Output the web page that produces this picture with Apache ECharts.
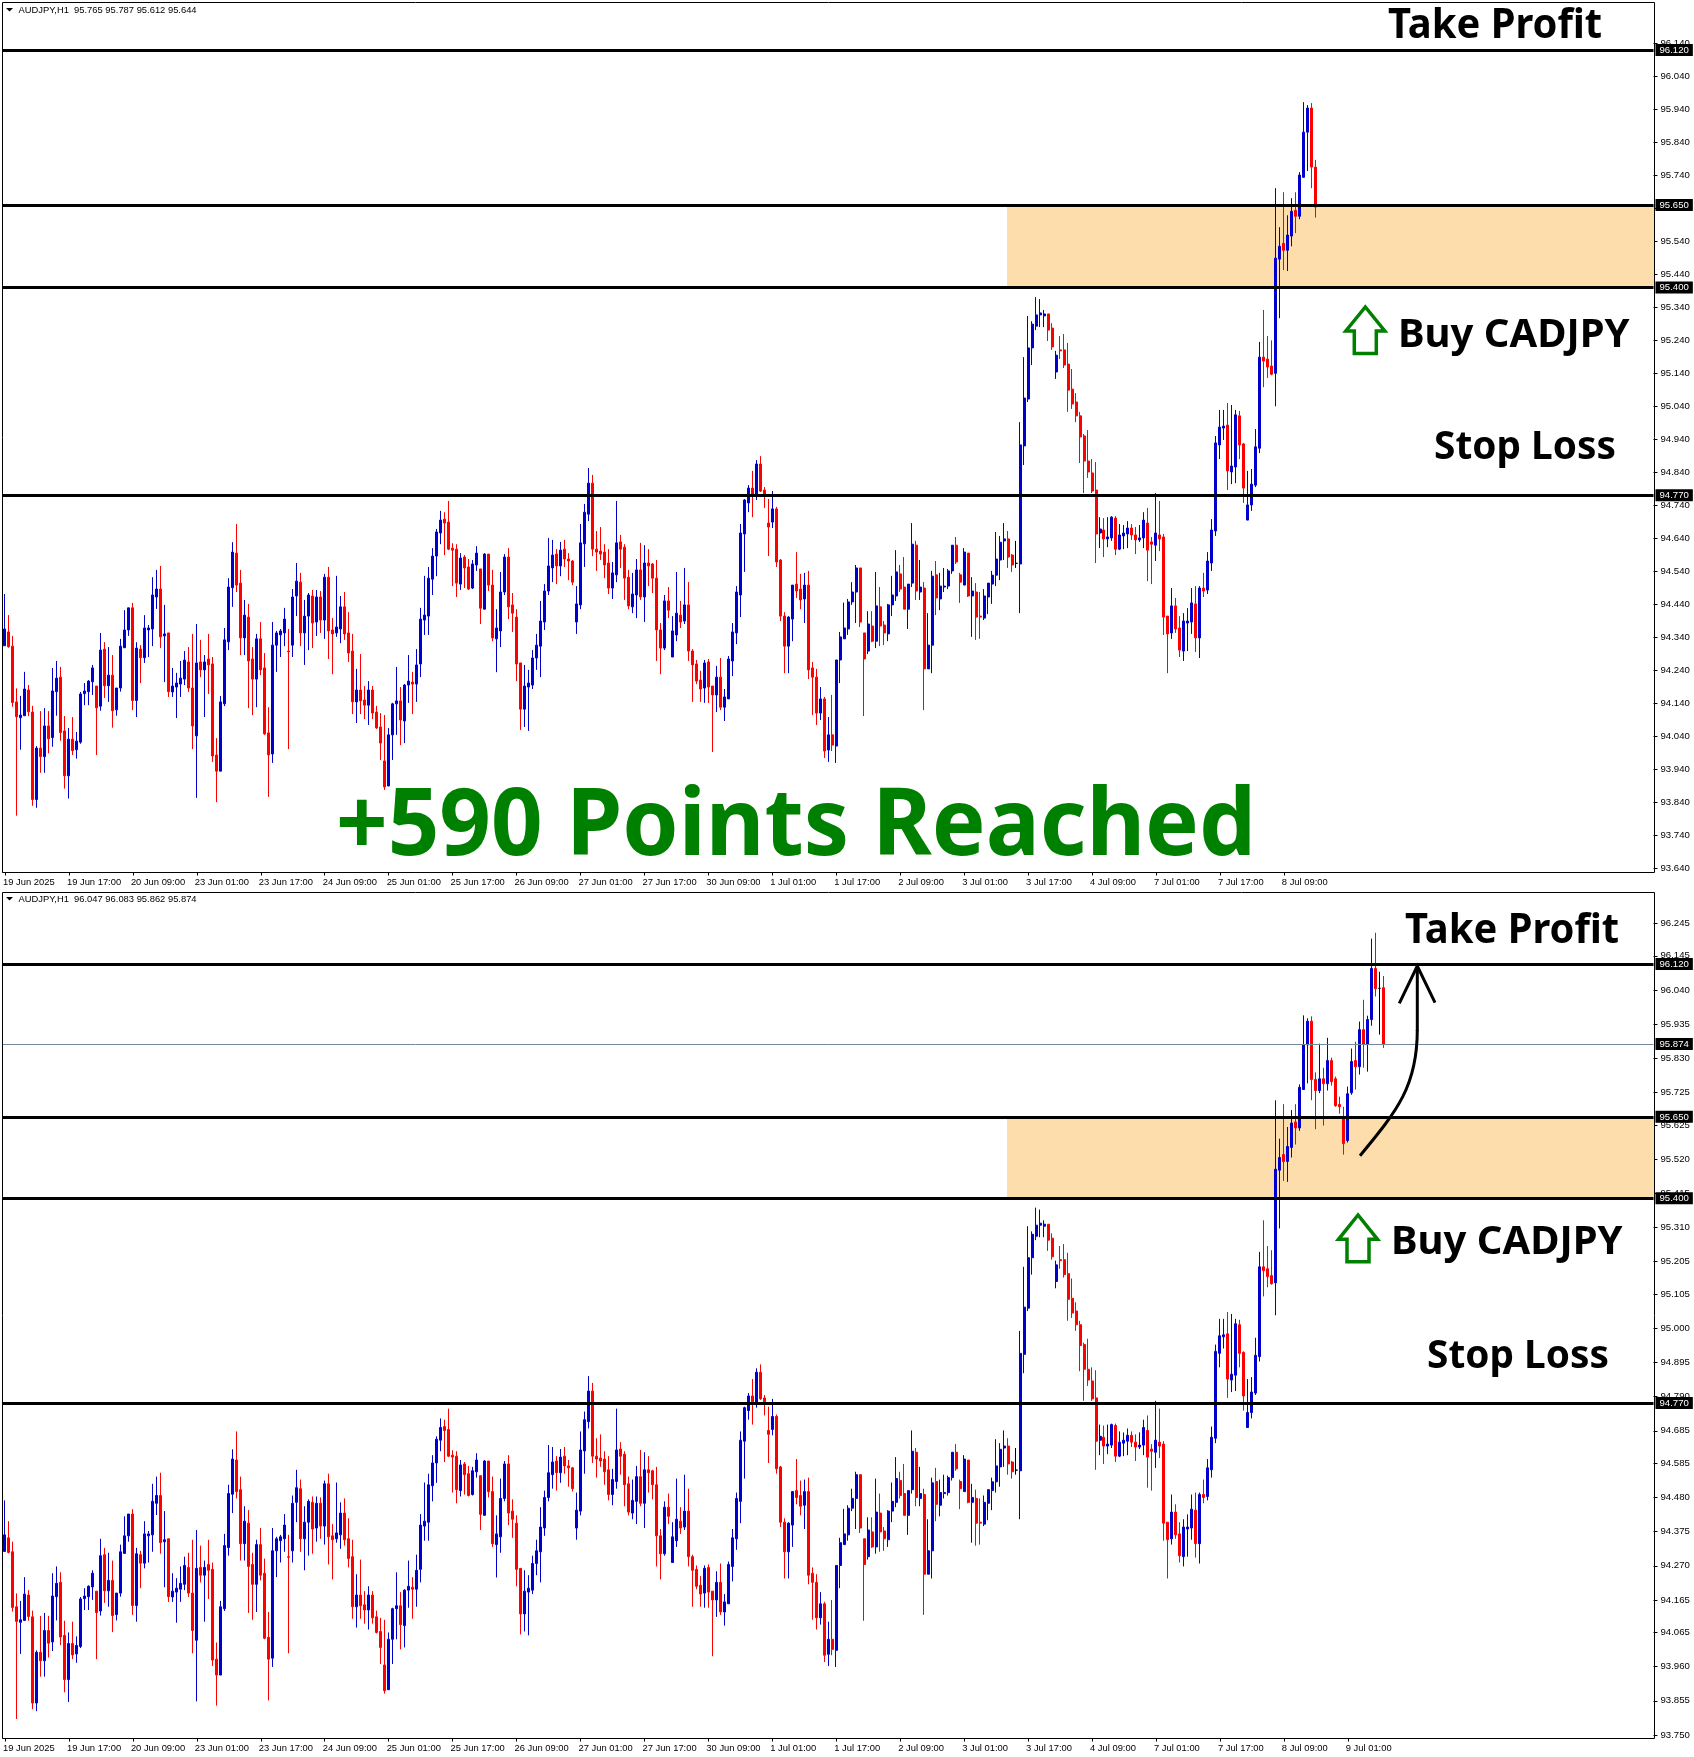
<!DOCTYPE html>
<html><head><meta charset="utf-8">
<style>html,body{margin:0;padding:0;background:#fff}#c{width:1694px;height:1757px}</style>
<script src="https://cdn.jsdelivr.net/npm/echarts@6/dist/echarts.min.js"></script>
</head><body><div id="c"></div>
<script>
// All OHLC values are points above 94.000 (1 point = 0.001)
const BASE = 94;
const opens = [
314,356,313,144,96,102,180,113,-152,4,-22,71,36,175,219,56,-80,31,-1,22,
169,175,205,192,131,304,193,225,120,186,308,362,429,148,304,278,362,365,462,486,
344,353,174,189,198,213,265,186,41,265,241,274,259,-17,-66,138,326,490,595,504,
338,401,274,213,335,247,50,-14,316,347,353,298,316,465,507,353,404,465,386,462,
392,522,362,353,365,432,353,298,144,180,150,134,180,113,68,-35,-111,44,138,147,
86,195,204,198,259,392,404,516,586,656,698,689,610,607,501,583,553,489,559,547,
425,592,498,335,359,477,583,438,401,262,122,189,195,277,313,386,480,550,592,556,
607,577,571,386,438,623,713,807,607,601,598,565,489,529,629,613,522,432,468,544,
462,565,562,519,362,307,450,280,347,407,389,438,298,259,210,186,265,192,165,219,
128,153,268,353,468,653,747,792,771,865,786,686,689,729,574,404,313,395,501,486,
456,498,247,219,110,153,-2,44,10,271,335,365,447,477,550,353,298,374,328,432,
377,350,438,465,532,492,425,504,619,477,489,244,316,529,456,492,495,541,619,529,
498,595,465,477,404,398,462,501,528,574,632,638,589,564,562,920,1062,1217,1283,1317,
1314,1320,1277,1144,1211,1211,1168,1092,1053,1011,950,874,838,786,656,665,638,641,701,607,
647,653,671,650,635,641,686,629,619,650,644,404,353,435,368,298,383,386,441,338,
489,483,565,662,923,974,983,841,856,1011,926,695,741,801,913,1189,1183,1162,1140,1486,
1534,1513,1556,1634,1616,1734,1871,1944,1765,1731,1767,1752,1823,1767,1688,1644,1577,1724,1823,1804,
1918,1872,1949,2106,2045,2047];
const closes = [
365,311,142,99,104,183,114,-152,4,-22,71,32,177,216,51,-80,31,-4,25,168,
177,207,247,126,301,193,225,117,186,313,362,429,148,307,278,368,368,468,486,341,
350,175,192,201,216,271,186,71,262,241,265,256,-20,-66,144,332,492,598,498,338,
407,268,213,335,241,47,-17,316,353,359,395,296,462,510,353,404,468,383,462,392,
522,359,350,371,432,350,292,144,180,147,134,180,110,65,19,-114,44,138,147,89,
195,207,198,256,395,407,519,586,659,695,686,607,604,504,580,550,486,562,595,428,
592,498,338,368,477,583,432,413,259,122,192,201,277,316,389,480,556,589,556,604,
577,571,507,441,626,719,807,607,598,592,559,489,535,626,607,519,435,471,544,462,
565,556,519,362,307,450,422,359,413,386,438,298,256,207,183,262,189,165,219,128,
159,274,356,477,656,756,792,774,865,783,774,674,729,568,404,313,401,498,480,453,
498,241,219,110,153,-5,44,13,271,341,368,447,477,550,386,274,380,328,435,374,
353,438,468,538,486,425,501,622,480,492,244,316,525,459,495,495,541,619,568,507,
598,465,480,401,401,465,504,528,577,628,638,583,559,564,923,1065,1217,1289,1317,1323,
1320,1271,1220,1195,1208,1165,1089,1047,1011,947,874,841,783,653,668,638,644,704,607,650,
656,671,650,635,641,695,604,622,656,638,401,350,435,365,301,389,389,444,338,489,
480,571,665,929,977,980,844,859,1014,923,792,741,804,917,1189,1177,1159,1137,1489,1525,
1513,1559,1631,1616,1741,1871,1944,1765,1731,1767,1752,1823,1758,1684,1681,1568,1721,1820,1804,1918,
1872,1949,2106,2044,2045,1874];
const highs = [
471,407,344,185,162,235,195,132,10,116,125,116,247,268,250,101,65,98,53,174,
201,210,256,192,353,325,310,286,186,335,422,429,444,325,316,407,377,522,544,556,
438,353,247,232,268,298,310,350,380,332,286,350,280,34,162,368,519,628,683,544,
453,441,310,350,386,292,128,386,359,365,429,365,486,565,535,453,474,483,483,480,
532,553,398,526,465,477,416,350,244,289,192,207,192,132,110,104,65,141,250,189,
198,286,235,304,429,526,553,610,668,723,719,753,625,622,595,589,577,574,616,547,
595,592,544,425,538,592,610,474,425,262,256,241,301,350,450,501,641,635,607,629,
635,595,574,495,683,744,853,832,662,674,622,607,568,753,650,622,544,535,577,626,
619,607,565,574,383,468,492,404,538,450,550,507,304,271,238,271,274,192,253,277,
183,283,383,495,683,759,801,844,877,889,795,759,783,735,577,416,404,498,598,532,
535,541,265,244,189,159,98,165,271,356,445,456,507,559,550,353,419,419,538,492,
389,441,526,604,559,583,501,686,632,574,507,413,541,571,535,550,547,619,644,535,
610,595,522,504,477,486,504,541,659,647,686,662,592,632,992,1189,1314,1298,1371,1365,
1332,1320,1292,1208,1253,1259,1232,1153,1080,1023,956,968,880,871,704,701,704,707,707,683,
680,692,683,674,680,719,732,644,777,753,653,404,489,459,404,413,428,489,495,495,
535,598,698,950,1029,1029,1050,1044,1029,1026,929,844,850,971,1235,1332,1253,1240,1701,1583,
1689,1619,1671,1689,1750,1962,1953,1959,1787,1875,1801,1893,1832,1774,1712,1681,1743,1860,1881,1943,
2010,1961,2198,2216,2096,2083];
const lows = [
314,308,129,-201,-1,102,101,-171,-177,-71,-71,-12,8,102,26,-119,-149,-17,-28,17,
134,134,165,-17,117,156,144,66,102,175,308,344,119,98,201,262,280,313,426,307,
204,159,159,95,159,195,174,1,-147,219,98,168,-38,-160,-66,131,301,432,477,286,
286,125,104,128,225,44,-144,-41,235,280,313,1,280,404,313,256,301,307,344,353,
335,274,228,341,322,332,265,107,80,107,92,74,92,62,-32,-123,-111,-32,44,13,
19,141,107,144,219,347,347,468,525,622,589,604,495,462,483,489,483,486,541,380,
425,480,328,234,310,468,395,356,207,59,68,56,183,241,219,362,468,507,501,525,
553,513,498,350,425,553,692,586,541,574,519,471,456,507,550,453,425,413,398,453,
386,495,474,268,228,301,398,280,328,368,380,268,144,198,144,141,141,-8,113,119,
86,153,222,319,401,538,719,704,756,780,732,586,671,553,389,231,231,328,459,425,
383,213,104,74,89,-26,-38,-5,-41,201,335,347,438,383,371,101,289,325,307,313,
316,328,404,450,477,425,365,492,453,453,119,244,231,407,422,477,486,532,562,444,
498,462,341,332,335,392,410,441,495,513,574,550,538,550,413,862,1053,1165,1271,1280,
1280,1238,1211,1123,1183,1156,1023,1032,992,868,777,823,777,565,610,583,613,632,589,604,
607,610,635,592,629,610,510,501,571,601,347,231,335,353,280,268,298,350,295,277,
462,471,541,647,880,938,786,804,807,880,747,695,723,795,898,1098,1126,1134,1040,1307,
1453,1450,1525,1565,1607,1734,1753,1701,1612,1723,1623,1731,1746,1681,1660,1534,1571,1718,1734,1780,
1801,1789,1930,2020,1903,1862];

// Forming bar of the upper snapshot: O, C, L, H
const upperLastBar = [95.765, 95.644, 95.612, 95.787];
const upperBarCount = 329;

const timeLabels = ['19 Jun 2025','19 Jun 17:00','20 Jun 09:00','23 Jun 01:00','23 Jun 17:00','24 Jun 09:00','25 Jun 01:00','25 Jun 17:00','26 Jun 09:00','27 Jun 01:00','27 Jun 17:00','30 Jun 09:00','1 Jul 01:00','1 Jul 17:00','2 Jul 09:00','3 Jul 01:00','3 Jul 17:00','4 Jul 09:00','7 Jul 01:00','7 Jul 17:00','8 Jul 09:00','9 Jul 01:00'];
const labelStep = 16;
const slotCount = 413;

const upperTicks = [93.64,93.74,93.84,93.94,94.04,94.14,94.24,94.34,94.44,94.54,94.64,94.74,94.84,94.94,95.04,95.14,95.24,95.34,95.44,95.54,95.64,95.74,95.84,95.94,96.04,96.14];
const lowerTicks = [93.75,93.855,93.96,94.065,94.165,94.27,94.375,94.48,94.585,94.685,94.79,94.895,95,95.105,95.205,95.31,95.415,95.52,95.625,95.725,95.83,95.935,96.04,96.145,96.245];

const takeProfit = 96.12, zoneTop = 95.65, zoneBottom = 95.4, stopLoss = 94.77, lastPrice = 95.874;
const headerUpper = 'AUDJPY,H1  95.765 95.787 95.612 95.644';
const headerLower = 'AUDJPY,H1  96.047 96.083 95.862 95.874';

const BLUE = '#0000CD', RED = '#FF0000', ZONE = '#FDDDAB', GREEN = '#008000';
const FONT = '"Liberation Sans", Arial, sans-serif';

const categories = [];
for (let i = 0; i < slotCount; i++) categories.push(i % labelStep === 0 && timeLabels[i / labelStep] ? timeLabels[i / labelStep] : '');

function bars(n) {
  const out = [];
  for (let i = 0; i < n; i++) out.push([opens[i], closes[i], lows[i], highs[i]].map(v => +(BASE + v / 1000).toFixed(3)));
  return out;
}
const upperBars = bars(upperBarCount); upperBars[upperBarCount - 1] = upperLastBar;
const lowerBars = bars(opens.length);

function xAxis(gridIndex, lastLabel) {
  const show = i => i % labelStep === 0 && i / labelStep <= lastLabel;
  return {
    type: 'category', gridIndex, data: categories, boundaryGap: true,
    axisLine: {show: true, lineStyle: {color: '#000', width: 1}},
    axisTick: {show: true, alignWithLabel: true, interval: show, length: 3, lineStyle: {color: '#000', width: 1}},
    axisLabel: {interval: show, align: 'left', margin: 5, color: '#000', fontFamily: FONT, fontSize: 9.4, hideOverlap: false, padding: [0, 0, 0, -2]},
    splitLine: {show: false}
  };
}
function yAxis(gridIndex, min, max, ticks) {
  return {
    type: 'value', gridIndex, position: 'right', min, max, scale: true,
    axisLine: {show: false},
    axisTick: {show: true, length: 4, customValues: ticks, lineStyle: {color: '#000', width: 1}},
    axisLabel: {customValues: ticks, margin: 7, color: '#000', fontFamily: FONT, fontSize: 9.6, formatter: v => (+v).toFixed(3)},
    splitLine: {show: false}
  };
}
function level(v, thin) {
  return {
    yAxis: v,
    lineStyle: thin ? {color: '#778899', width: 1, type: 'solid'} : {color: '#000', width: 3, type: 'solid'},
    label: {show: true, position: 'end', distance: 2, formatter: v.toFixed(3), color: '#fff', backgroundColor: '#000',
      fontFamily: FONT, fontSize: 9.6, padding: [1, 4, 1, 4]}
  };
}
function candles(xi, yi, data, levels) {
  return {
    type: 'candlestick', xAxisIndex: xi, yAxisIndex: yi, data, barWidth: 2.5, clip: true, animation: false, silent: true, large: false,
    itemStyle: {color: BLUE, color0: RED, borderColor: BLUE, borderColor0: RED, borderColorDoji: '#000', borderWidth: 1},
    markLine: {silent: true, symbol: 'none', animation: false, precision: 3, data: levels},
    markArea: {silent: true, animation: false, itemStyle: {color: ZONE, opacity: 1},
      data: [[{x: 1007, yAxis: zoneTop}, {x: 1654, yAxis: zoneBottom}]]}
  };
}
// baseline: y of the text baseline, size: font size in px
function note(text, x, baseline, size, weight, fill, scaleX, family) {
  return {type: 'text', silent: true, z: 20, x, y: baseline - 0.277 * size, scaleX: scaleX || 1,
    style: {text, x: 0, y: 0, font: weight + ' ' + size + 'px ' + family, fill, align: 'left', verticalAlign: 'middle'}};
}
const NOTE = '"Noto Sans", sans-serif';
function upArrow(cx, top, shoulder, bottom) {
  return {type: 'polygon', silent: true, z: 20,
    shape: {points: [[cx, top], [cx - 19.5, shoulder], [cx - 11, shoulder], [cx - 11, bottom], [cx + 11, bottom], [cx + 11, shoulder], [cx + 19.5, shoulder]]},
    style: {fill: 'none', stroke: GREEN, lineWidth: 3.5}};
}
const graphics = [
  {type: 'rect', silent: true, z: 15, shape: {x: 2.5, y: 2.5, width: 1652, height: 870}, style: {fill: 'none', stroke: '#000', lineWidth: 1}},
  {type: 'rect', silent: true, z: 15, shape: {x: 2.5, y: 892.5, width: 1652, height: 846}, style: {fill: 'none', stroke: '#000', lineWidth: 1}},
  {type: 'polygon', silent: true, z: 20, shape: {points: [[6, 8], [13, 8], [9.5, 11.5]]}, style: {fill: '#000'}},
  {type: 'polygon', silent: true, z: 20, shape: {points: [[6, 897], [13, 897], [9.5, 900.5]]}, style: {fill: '#000'}},
  note(headerUpper, 18.5, 13.5, 9.4, 'normal', '#000', 1, FONT),
  note(headerLower, 18.5, 902.5, 9.4, 'normal', '#000', 1, FONT),
  note('Take Profit', 1388, 37.5, 42, 'bold', '#000', 0.95, NOTE),
  note('Buy CADJPY', 1398, 346.5, 40, 'bold', '#000', 1, NOTE),
  note('Stop Loss', 1434, 459, 40, 'bold', '#000', 0.97, NOTE),
  note('Take Profit', 1405, 943, 42, 'bold', '#000', 0.95, NOTE),
  note('Buy CADJPY', 1391, 1253.5, 40, 'bold', '#000', 1, NOTE),
  note('Stop Loss', 1427, 1368, 40, 'bold', '#000', 0.97, NOTE),
  note('+590 Points Reached', 336, 854, 94, 'bold', GREEN, 0.961, NOTE),
  upArrow(1365.3, 307, 331, 353.6),
  upArrow(1358, 1215, 1239.3, 1261.7),
  {type: 'bezierCurve', silent: true, z: 20,
    shape: {x1: 1360, y1: 1155.7, x2: 1417.3, y2: 1030, cpx1: 1398, cpy1: 1110, cpx2: 1417.3, cpy2: 1085},
    style: {fill: 'none', stroke: '#000', lineWidth: 3}},
  {type: 'line', silent: true, z: 20, shape: {x1: 1417.3, y1: 1031, x2: 1417.3, y2: 966}, style: {stroke: '#000', lineWidth: 3}},
  {type: 'polyline', silent: true, z: 20, shape: {points: [[1399.3, 1003.3], [1417.3, 966], [1435, 1002.7]]}, style: {fill: 'none', stroke: '#000', lineWidth: 3}}
];

const chart = echarts.init(document.getElementById('c'), null, {renderer: 'canvas', width: 1694, height: 1757});
chart.setOption({
  animation: false, backgroundColor: '#fff', tooltip: {show: false},
  grid: [
    {left: 1.5, top: 2.5, width: 1652, height: 870, containLabel: false},
    {left: 1.5, top: 892.5, width: 1652, height: 846, containLabel: false}
  ],
  xAxis: [xAxis(0, 20), xAxis(1, 21)],
  yAxis: [yAxis(0, 93.6268, 96.264, upperTicks), yAxis(1, 93.739, 96.3397, lowerTicks)],
  series: [
    candles(0, 0, upperBars, [takeProfit, zoneTop, zoneBottom, stopLoss].map(v => level(v))),
    candles(1, 1, lowerBars, [level(takeProfit), level(lastPrice, true), level(zoneTop), level(zoneBottom), level(stopLoss)])
  ],
  graphic: graphics
});
</script></body></html>
